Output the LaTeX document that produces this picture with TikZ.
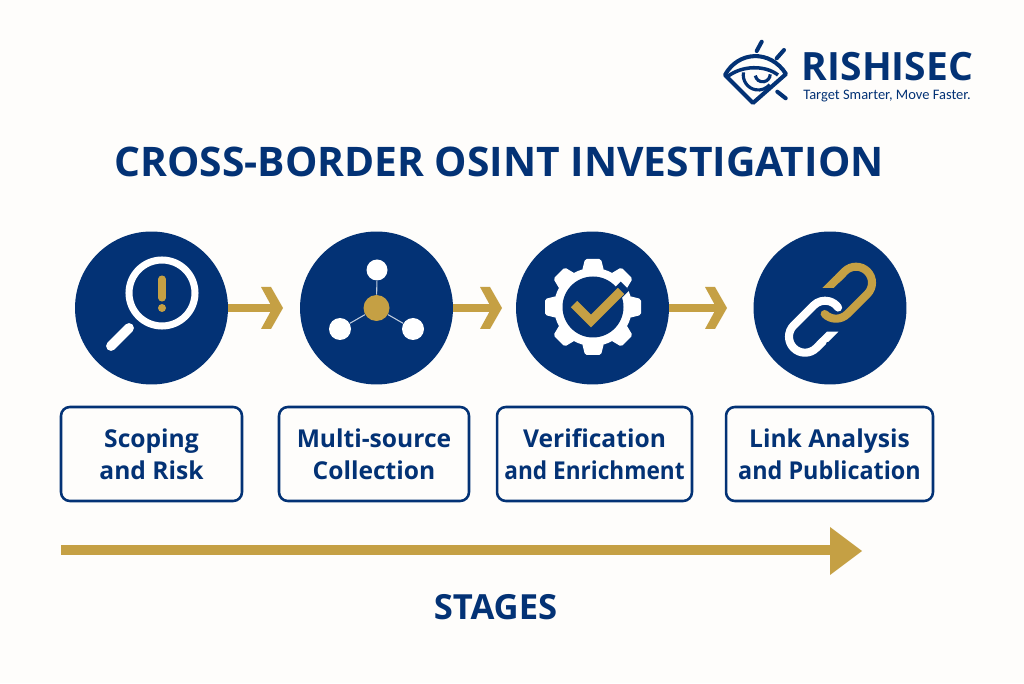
\documentclass[tikz,border=0pt]{standalone}
\usepackage{fontspec}
\setmainfont{Open Sans}
\newfontfamily\mottofont{Carlito}
\usetikzlibrary{positioning}
\definecolor{navy}{RGB}{3,50,117}
\definecolor{gold}{RGB}{197,160,68}
\definecolor{paper}{RGB}{254,253,251}
\newcommand{\narrowline}[2][0.92]{\scalebox{#1}[1]{#2}}
\tikzset{
    stagedisc/.style={circle,fill=navy,minimum size=3.06cm,inner sep=0pt},
    stagebox/.style={draw=navy,line width=1.45pt,rounded corners=5pt,minimum height=1.88cm,
        align=center,text=navy,font=\fontsize{14}{18}\selectfont\bfseries,inner sep=0pt},
    shaft/.style={gold,line width=4pt},
    whiteline/.style={white,line width=4.6pt,line cap=round},
    goldline/.style={gold,line width=4.6pt,line cap=round},
    netlink/.style={white!75!navy,line width=0.6pt},
}
\begin{document}
\begin{tikzpicture}[x=0.02cm,y=0.02cm]
    \useasboundingbox[fill=paper] (0,0) rectangle (1024,683);
    % logo
    \node[text=navy,font=\fontsize{22.2}{24}\selectfont\bfseries,inner sep=0pt] (brand) at (887.5,616) {RISHISEC};
    \node[text=navy,font=\fontsize{8.25}{11}\selectfont\mottofont,inner sep=0pt] (motto) at (887,587) {Target Smarter, Move Faster.};
    \draw[navy,line width=2.3pt,line join=round] (725,608) .. controls (738,632) and (770,634) .. (786,609) -- (753,580) -- cycle;
    \draw[navy,line width=2pt] (727,606) .. controls (742,618) and (765,618) .. (778,608);
    \draw[navy,line width=2.3pt,line cap=round] (761.7,641.3) -- (756.7,632) (784,633) -- (776.7,624.7) (777.3,591.3) -- (785.7,584.7);
    \draw[navy,line width=1.8pt] (743.5,610.6) arc [start angle=170,end angle=320,radius=15];
    \draw[navy,line width=1.8pt] (755.3,607.4) arc [start angle=190,end angle=360,radius=7.5];
    % title
    \node[text=navy,font=\fontsize{23.2}{26}\selectfont\bfseries,inner sep=0pt] (title) at (499,521) {CROSS-BORDER OSINT INVESTIGATION};
    % stages
    \node[stagedisc] (scoping) at (151.5,375) {};
    \node[stagedisc] (collection) at (376.5,375) {};
    \node[stagedisc] (verify) at (592.5,375) {};
    \node[stagedisc] (link) at (830,375) {};
    \node[stagebox,minimum width=3.62cm] (scopingbox) at (151.5,229) {Scoping\\and Risk};
    \node[stagebox,minimum width=3.8cm] (collectionbox) at (374,229) {Multi-source\\Collection};
    \node[stagebox,minimum width=3.9cm] (verifybox) at (594.5,229) {Verification\\\narrowline{and Enrichment}};
    \node[stagebox,minimum width=4.14cm] (linkbox) at (829.5,229) {Link Analysis\\\narrowline[0.95]{and Publication}};
    % arrows between the stages
    \coordinate (tipa) at (283,375);
    \coordinate (tipb) at (502,375);
    \coordinate (tipc) at (727,375);
    \foreach \from/\to in {scoping/tipa,collection/tipb,verify/tipc}{
        \draw[shaft] (\from.east) -- ([xshift=-0.2cm]\to);
        \fill[gold] (\to) -- ++(-12,21) -- ++(-10,0) -- ++(11.5,-21) -- ++(-11.5,-21) -- ++(10,0) -- cycle;
    }
    % magnifier
    \draw[white,line width=4pt] (162,390) circle [radius=33];
    \draw[white,line width=5.6pt,line cap=round] (111,337) -- (129,355);
    \draw[gold,line width=4pt,line cap=round] (162,404) -- (162,385);
    \fill[gold] (162,375) circle [radius=4];
    % network
    \node[circle,fill=gold,minimum size=0.52cm,inner sep=0pt] (hub) at (376.5,375) {};
    \node[circle,fill=white,minimum size=0.42cm,inner sep=0pt] (top) at (377,413) {};
    \node[circle,fill=white,minimum size=0.44cm,inner sep=0pt] (left) at (340,354) {};
    \node[circle,fill=white,minimum size=0.44cm,inner sep=0pt] (right) at (413,354) {};
    \foreach \leaf in {top,left,right}
        \draw[netlink] (hub) -- (\leaf);
    % gear
    \fill[white] (593,376) circle [radius=39];
    \foreach \a in {0,45,...,315}
        \fill[white,shift={(593,376)},rotate=\a,rounded corners=1pt] (36,-11) -- (48,-8) -- (48,8) -- (36,11) -- cycle;
    \fill[navy] (593,376) circle [radius=30.5];
    \draw[navy,line width=7pt] (591,363) -- (625,397);
    \draw[gold,line width=5.2pt] (574,379) -- (591,362) -- (621,392);
    % chain
    \draw[whiteline] (823,341.7) -- (816.3,335) arc [start angle=-45,end angle=-225,radius=16]
        -- (813.7,377.6) arc [start angle=135,end angle=35,radius=16];
    \fill[white] (827,351.3) -- (838.3,351.3) -- (828,341) -- (816.6,341) -- cycle;
    \draw[goldline] (838.1,405) -- (844.7,411.6) arc [start angle=135,end angle=-45,radius=16]
        -- (847.3,369) arc [start angle=-45,end angle=-135,radius=16];
    \fill[gold] (822.4,395) -- (833.7,395) -- (845.8,407) -- (834.4,407) -- cycle;
    % stages axis
    \coordinate (axisstart) at (61,133);
    \coordinate (axisend) at (832,133);
    \draw[gold,line width=6.2pt] (axisstart) -- (axisend);
    \fill[gold] (830,156) -- (862,132) -- (830,108) -- cycle;
    \node[text=navy,font=\fontsize{19.7}{22}\selectfont\bfseries,inner sep=0pt] (stages) at (495.5,76) {STAGES};
\end{tikzpicture}
\end{document}
